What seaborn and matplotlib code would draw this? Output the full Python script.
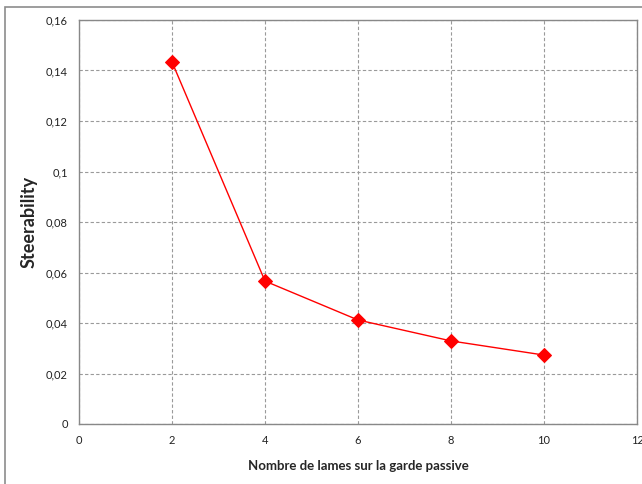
import matplotlib
matplotlib.use('Agg')
import matplotlib.pyplot as plt
import seaborn as sns
import pandas as pd
from matplotlib.ticker import FuncFormatter, MultipleLocator
from matplotlib.patches import Rectangle

# data
lames = [2, 4, 6, 8, 10]
steerability = [0.1434, 0.0566, 0.0412, 0.0329, 0.0273]

df = pd.DataFrame({"lames": lames, "steer": steerability})

sns.set_theme(style="white")
plt.rcParams['font.family'] = ['Lato', 'DejaVu Sans']

fig = plt.figure(figsize=(6.42, 4.84), dpi=100)
ax = fig.add_axes([79 / 642, 60 / 484, 558 / 642, 404 / 484])

sns.lineplot(data=df, x="lames", y="steer", color="#ff0000", marker="D",
             markersize=7, markeredgecolor="#ff0000", linewidth=1, ax=ax)

ax.set_xlim(0, 12)
ax.set_ylim(0, 0.16)
ax.xaxis.set_major_locator(MultipleLocator(2))
ax.yaxis.set_major_locator(MultipleLocator(0.02))
ax.yaxis.set_major_formatter(FuncFormatter(lambda v, p: f"{v:.2f}".rstrip('0').rstrip('.').replace('.', ',') if v else "0"))
ax.grid(True, color="#9a9a9a", linestyle=(0, (3, 2)), linewidth=0.8)
ax.tick_params(length=0, labelsize=8, colors="#222222", pad=8)
for s in ax.spines.values():
    s.set_color("#888888")
    s.set_linewidth(1)

ax.set_xlabel("Nombre de lames sur la garde passive", fontsize=9.5, fontweight="bold", labelpad=10)
ax.set_ylabel("Steerability", fontsize=13, fontweight="bold", labelpad=6)

fig.patches.append(Rectangle((5 / 642, -0.05), 1.2, (484 - 7) / 484 + 0.05,
                             transform=fig.transFigure, fill=False,
                             edgecolor="#8c8c8c", linewidth=1.2))

fig.savefig("out.png", dpi=100)
